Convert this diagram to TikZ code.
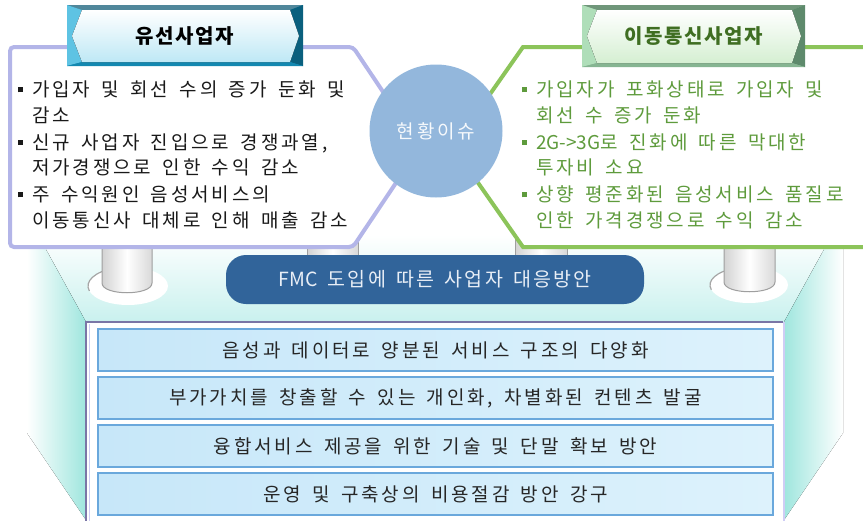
\documentclass[tikz,border=0pt]{standalone}
\usepackage{fontspec}
\setmainfont{Noto Sans CJK KR}[WordSpace=1.6]
\newfontfamily\spaced{Noto Sans CJK KR}[WordSpace=1.6, LetterSpace=15]
\newfontfamily\tabfont{Noto Sans CJK KR}[WordSpace=1.6, LetterSpace=8]
\newfontfamily\bannerfont{Noto Sans CJK KR}[WordSpace=1.6, LetterSpace=11]
\usetikzlibrary{shapes.geometric}
\definecolor{lav}{HTML}{B3B5E8}
\definecolor{grn}{HTML}{8CC45A}
\definecolor{grntext}{HTML}{5E9B3C}
\definecolor{circ}{HTML}{93B7DC}
\definecolor{banner}{HTML}{31649A}
\definecolor{boxfillL}{HTML}{C7E7F9}
\definecolor{boxfillR}{HTML}{DDF2FC}
\definecolor{boxline}{HTML}{6AA8DC}
\definecolor{teal}{HTML}{9FE6DE}
\definecolor{backc}{HTML}{C9F1EE}
\definecolor{frameD}{HTML}{7A76A6}
\definecolor{frameL}{HTML}{CFCDF5}
\definecolor{tabLmid}{HTML}{1F8FB8}
\definecolor{tabLtop}{HTML}{50879B}
\definecolor{tabLleft}{HTML}{5EC3E3}
\definecolor{tabLright}{HTML}{0A607E}
\definecolor{tabLbot}{HTML}{1388B0}
\definecolor{tabLplate}{HTML}{BEE8F5}
\definecolor{tabRmid}{HTML}{8CBE9B}
\definecolor{tabRtop}{HTML}{70967A}
\definecolor{tabRleft}{HTML}{AFDEB9}
\definecolor{tabRright}{HTML}{5E8A6C}
\definecolor{tabRbot}{HTML}{86B592}
\definecolor{tabRplate}{HTML}{D5EFD2}
\definecolor{tabRtext}{HTML}{3F6E22}
\definecolor{bannertext}{HTML}{E8EEF6}
\newcommand{\bul}{\makebox[14pt][l]{\raisebox{4.5pt}{\rule{5pt}{5pt}}}}
\newcommand{\ind}{\hspace*{14pt}}
\tikzset{
  paneltext/.style={anchor=north west, align=left, inner sep=0pt,
    font=\spaced\fontsize{19}{25.5}\selectfont},
  rowbox/.style={draw=boxline, line width=2pt, left color=boxfillL, right color=boxfillR,
    minimum width=675pt, minimum height=42pt, inner sep=0pt,
    font=\spaced\fontsize{19}{20}\selectfont, text=black!85},
  pillar/.style={draw=gray!75, line width=1pt, left color=gray!35, right color=gray!30, middle color=white},
  pbase/.style={fill=white},
  tabtext/.style={font=\tabfont\bfseries\fontsize{20}{22}\selectfont, inner sep=0pt}
}
\begin{document}
\begin{tikzpicture}[x=1pt,y=-1pt]
\useasboundingbox (0,0) rectangle (863,520);
\clip (0,0) rectangle (863,520);
% back wall
\fill[top color=white, bottom color=backc] (38,235) -- (832,235) -- (784,322) -- (86,322) -- cycle;
% side walls
\fill[left color=white, right color=teal] (38,235) -- (86,322) -- (86,520) -- (27,433) -- (27,235) -- cycle;
\fill[left color=teal, right color=white] (832,235) -- (784,322) -- (784,520) -- (843,433) -- (843,235) -- cycle;
% front box
\fill[white] (86,322) rectangle (784,530);
\draw[frameL, line width=1pt] (89,324) -- (89,530);
\draw[frameL, line width=2pt] (784,322) -- (784,530);
\draw[frameD, line width=2pt] (86,530) -- (86,322) -- (783,322);
% outer pillars with bases
\fill[pbase] (128,286) ellipse[x radius=40, y radius=19];
\draw[gray!70, line width=1.2pt] ([shift={(165:40 and 19)}]128,286) arc[start angle=165, end angle=250, x radius=40, y radius=19];
\path[pillar] (102,230) -- (102,283) .. controls (102,296) and (152,296) .. (152,283) -- (152,230);
\fill[pbase] (749,285) ellipse[x radius=39, y radius=18];
\draw[gray!70, line width=1.2pt] ([shift={(165:39 and 18)}]749,285) arc[start angle=165, end angle=250, x radius=39, y radius=18];
\path[pillar] (724,230) -- (724,282) .. controls (724,295) and (775,295) .. (775,282) -- (775,230);
% inner pillars
\path[pillar] (307,235) rectangle (358,275);
\path[pillar] (515,235) rectangle (567,275);
% left panel
\draw[lav, line width=4pt, fill=white, rounded corners=4pt] (10,47) -- (353,47) -- (420,147) -- (353,247) -- (10,247) -- cycle;
% right panel
\draw[grn, line width=4pt, fill=white] (900,47) -- (523,47) -- (453,147) -- (523,247) -- (900,247);
% circle
\node[circle, fill=circ, minimum size=133pt, inner sep=0pt, text=white!92!circ,
  font=\spaced\fontsize{19}{20}\selectfont] (issue) at (436,131) {현황이슈};
% left panel text
\node[paneltext, text=black!90] (lefttext) at (18,81)
 {\bul 가입자 및 회선 수의 증가 둔화 및\\
  \ind 감소\\[1.5pt]
  \bul 신규 사업자 진입으로 경쟁과열,\\
  \ind 저가경쟁으로 인한 수익 감소\\[1.5pt]
  \bul 주 수익원인 음성서비스의\\
  \ind 이동통신사 대체로 인해 매출 감소};
% right panel text
\node[paneltext, text=grntext] (righttext) at (522,81)
 {\bul 가입자가 포화상태로 가입자 및\\
  \ind 회선 수 증가 둔화\\[1.5pt]
  \bul {\rmfamily 2G->3G}로 진화에 따른 막대한\\
  \ind 투자비 소요\\[1.5pt]
  \bul 상향 평준화된 음성서비스 품질로\\
  \ind 인한 가격경쟁으로 수익 감소};
% left tab
\fill[tabLmid] (67,5) rectangle (303,66);
\fill[tabLtop] (67,5) -- (303,5) -- (290,10) -- (82,10) -- cycle;
\fill[tabLleft] (67,5) -- (82,10) -- (72,36) -- (82,62) -- (67,66) -- cycle;
\fill[tabLright] (303,5) -- (290,10) -- (299,36) -- (290,62) -- (303,66) -- cycle;
\fill[tabLbot] (67,66) -- (303,66) -- (290,62) -- (82,62) -- cycle;
\fill[top color=white, bottom color=tabLplate] (72,36) -- (82,10) -- (290,10) -- (299,36) -- (290,62) -- (82,62) -- cycle;
\node[tabtext, text=black] (tabL) at (185,36) {유선사업자};
% right tab
\fill[tabRmid] (582,5) rectangle (805,67);
\fill[tabRtop] (582,5) -- (805,5) -- (792,10) -- (597,10) -- cycle;
\fill[tabRleft] (582,5) -- (597,10) -- (587,36) -- (597,63) -- (582,67) -- cycle;
\fill[tabRright] (805,5) -- (792,10) -- (801,36) -- (792,63) -- (805,67) -- cycle;
\fill[tabRbot] (582,67) -- (805,67) -- (792,63) -- (597,63) -- cycle;
\fill[top color=white, bottom color=tabRplate] (587,36) -- (597,10) -- (792,10) -- (801,36) -- (792,63) -- (597,63) -- cycle;
\node[tabtext, text=tabRtext] (tabR) at (694,36) {이동통신사업자};
% banner
\node[fill=banner, rounded corners=20pt, minimum width=418pt, minimum height=49pt, inner sep=0pt,
  text=bannertext, font=\bannerfont\fontsize{19.5}{20}\selectfont] (fmc) at (435,279.5) {{\rmfamily FMC} 도입에 따른 사업자 대응방안};
% rows
\node[rowbox] (r1) at (435.5,350) {음성과 데이터로 양분된 서비스 구조의 다양화};
\node[rowbox] (r2) at (435.5,398) {부가가치를 창출할 수 있는 개인화, 차별화된 컨텐츠 발굴};
\node[rowbox] (r3) at (435.5,446) {융합서비스 제공을 위한 기술 및 단말 확보 방안};
\node[rowbox] (r4) at (435.5,494) {운영 및 구축상의 비용절감 방안 강구};
\end{tikzpicture}
\end{document}
